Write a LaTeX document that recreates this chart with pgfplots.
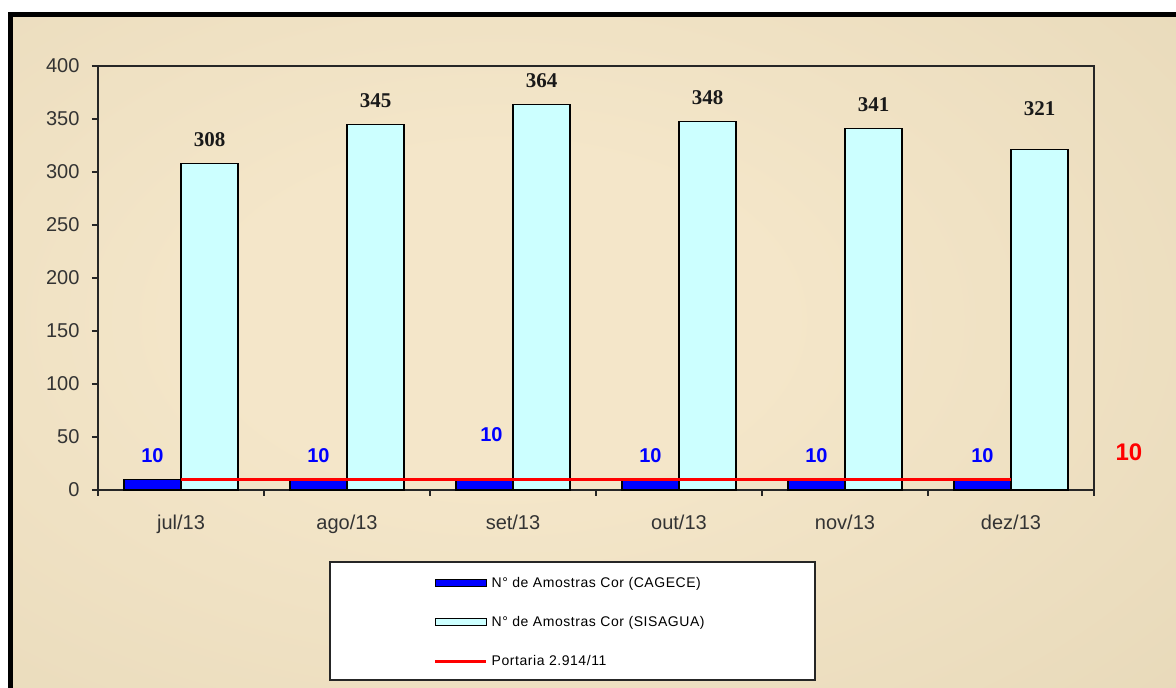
\documentclass[border=0pt]{standalone}
\usepackage{pgfplots}
\pgfplotsset{compat=1.18}
\usepackage{pgfplotstable}
\usepackage{fontspec}
\setmainfont{Liberation Sans}
\newfontfamily\serifb{Liberation Serif}
\newfontfamily\legfont[LetterSpace=4]{Liberation Sans}
\definecolor{bgin}{HTML}{F4E6C9}
\definecolor{bgout}{HTML}{D4C5A1}
\definecolor{cyanbar}{HTML}{CCFFFF}
\definecolor{bluebar}{HTML}{0000FF}
\definecolor{tickgray}{HTML}{333333}
\pgfdeclareradialshading{bgshade}{\pgfpoint{0bp}{0bp}}{color(0bp)=(bgin); color(10bp)=(bgin); color(72bp)=(bgout); color(100bp)=(bgout)}

\pgfplotstableread{
x cagece sisagua la xa lb
0 10 308 16 -28.5 16
1 10 345 16 -28.5 16
2 10 364 37 -21.5 16
3 10 348 16 -28.5 16
4 10 341 16 -28.5 16
5 10 321 16 -28.5 33
}\datatable

\begin{document}
\begin{tikzpicture}[x=1pt,y=1pt]
\useasboundingbox (0,0) rectangle (1176,688);
\clip (0,0) rectangle (1176,688);
\fill[white] (0,0) rectangle (1176,688);
\begin{scope}
\clip (10.5,-20) rectangle (1200,673);
\shade[shading=bgshade] (-200,-52) rectangle (1200,788);
\end{scope}
\draw[line width=5pt, black] (10.5,-20) rectangle (1200,673);
\draw[line width=1.3pt, black!85, fill=white] (330,126) rectangle (815,8);
\begin{axis}[
  at={(98pt,198pt)}, anchor=south west,
  scale only axis, width=996pt, height=424pt,
  xmin=-0.5, xmax=5.5, ymin=0, ymax=400,
  clip=false,
  axis line style={draw=black!85, line width=1.3pt},
  xtick={0,...,5},
  xticklabels={jul/13,ago/13,set/13,out/13,nov/13,dez/13},
  minor xtick={-0.5,0.5,...,5.5},
  major x tick style={draw=none},
  minor x tick style={draw=black!85, line width=1.3pt},
  ytick={0,50,...,400},
  y tick style={draw=black!85, line width=1.3pt},
  tick align=outside, major tick length=6pt, minor tick length=6pt,
  xtick pos=bottom, ytick pos=left,
  ticklabel style={font=\fontsize{20}{24}\selectfont, text=tickgray},
  xticklabel style={yshift=-15pt},
  yticklabel style={xshift=-9pt},
  /pgf/number format/assume math mode=true,
  bar width=57pt,
  legend style={at={(0.473,-0.312)}, anchor=center, draw=none, fill=none,
    font=\legfont\fontsize{14}{16}\selectfont, nodes={inner sep=0pt},
    row sep=27.5pt, column sep=4pt},
  legend cell align=left,
]
\addplot[ybar, bar shift=-28.5pt, fill=bluebar, draw=black, line width=1.2pt,
  visualization depends on={\thisrow{la} \as \labA},
  visualization depends on={\thisrow{xa} \as \labAx},
  nodes near coords,
  every node near coord/.append style={anchor=south, inner sep=0pt, yshift=\labA, xshift=\labAx, font=\fontsize{20}{24}\selectfont\bfseries, text=bluebar},
  legend image code/.code={\draw[fill=bluebar, draw=black, line width=1.2pt] (0pt,-3.5pt) rectangle (51pt,3.5pt);}
] table[x=x, y=cagece] {\datatable};
\addlegendentry{N° de Amostras Cor (CAGECE)}
\addplot[ybar, bar shift=28.5pt, fill=cyanbar, draw=black, line width=1.2pt,
  visualization depends on={\thisrow{lb} \as \labB},
  nodes near coords,
  every node near coord/.append style={anchor=south, inner sep=0pt, yshift=\labB, xshift=28.5, font=\serifb\fontsize{21}{24}\selectfont\bfseries, text=black!90},
  legend image code/.code={\draw[fill=cyanbar, draw=black, line width=1.2pt] (0pt,-3.5pt) rectangle (51pt,3.5pt);}
] table[x=x, y=sisagua] {\datatable};
\addlegendentry{N° de Amostras Cor (SISAGUA)}
\addplot[red, line width=3pt, sharp plot, no marks,
  legend image code/.code={\draw[red, line width=3pt] (0pt,0pt) -- (51pt,0pt);}
] coordinates {(0,10) (5,10)};
\addlegendentry{Portaria 2.914/11}
\node[text=red, font=\fontsize{24}{28}\selectfont\bfseries] at (axis cs:5.71,35.8) {10};
\end{axis}
\end{tikzpicture}
\end{document}
